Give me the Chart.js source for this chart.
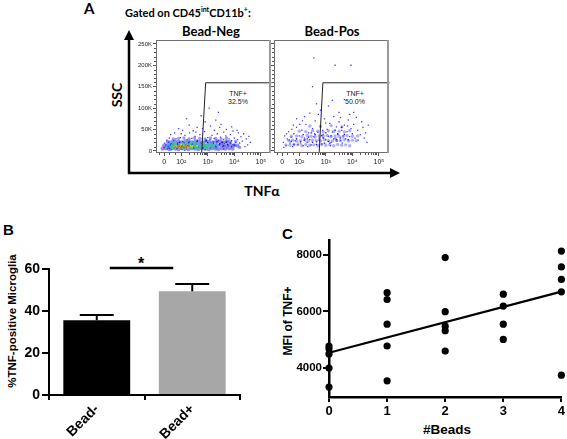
<!DOCTYPE html>
<html><head><meta charset="utf-8">
<script src="https://cdn.jsdelivr.net/npm/chart.js@4.4.0/dist/chart.umd.min.js"></script>
<style>
body{margin:0;width:567px;height:439px;background:#fff;position:relative;overflow:hidden;font-family:"Liberation Sans",Arial,sans-serif;}
canvas{position:absolute;}
.t{position:absolute;white-space:nowrap;color:#000;line-height:1;}
.lato{font-family:Lato,"Open Sans",sans-serif;font-weight:bold;}
.b{font-weight:bold;}
.rot{transform:translate(-50%,-50%) rotate(-90deg);}
.c{transform:translate(-50%,-50%);}
</style></head><body>

<div class="t lato" style="left:84px;top:1px;font-size:15px;">A</div>
<div class="t lato" style="left:125px;top:6px;font-size:11px;">Gated on CD45<sup style="font-size:7px">int</sup>CD11b<sup style="font-size:7px">+</sup>:</div>
<div class="t lato c" style="left:211px;top:31px;font-size:13px;">Bead-Neg</div>
<div class="t lato c" style="left:332px;top:31px;font-size:13px;">Bead-Pos</div>
<div class="t lato rot" style="left:117px;top:95px;font-size:14px;">SSC</div>
<div class="t lato c" style="left:262px;top:191px;font-size:14px;">TNFα</div>
<div class="t c" style="left:238px;top:93px;font-size:7px;color:#222;">TNF+</div>
<div class="t c" style="left:238px;top:101px;font-size:7px;color:#222;">32.5%</div>
<div class="t c" style="left:355px;top:93px;font-size:7px;color:#222;">TNF+</div>
<div class="t c" style="left:355px;top:101px;font-size:7px;color:#222;">50.0%</div>

<svg style="position:absolute;left:0;top:0" width="567" height="439">
  <path d="M129 36 L129 173 L394 173" fill="none" stroke="#000" stroke-width="2.5"/>
  <path d="M124 40 L129 30 L134 40 Z" fill="#000"/>
  <path d="M390 168 L400 173 L390 178 Z" fill="#000"/>
</svg>

<canvas id="flowNeg" width="155" height="145" style="left:120px;top:30px"></canvas>
<canvas id="flowPos" width="155" height="145" style="left:238px;top:30px"></canvas>

<div class="t b" style="left:3px;top:222px;font-size:15px;">B</div>
<div class="t b rot" style="left:13px;top:321px;font-size:11.5px;">%TNF-positive Microglia</div>
<div class="t b c" style="left:141px;top:264px;font-size:16px;">*</div>
<canvas id="barChart" width="245" height="209" style="left:0px;top:230px"></canvas>

<div class="t b" style="left:282px;top:226px;font-size:15px;">C</div>
<div class="t b rot" style="left:288px;top:321px;font-size:12px;">MFI of TNF+</div>
<div class="t b c" style="left:447px;top:430px;font-size:13.5px;">#Beads</div>
<canvas id="scatterChart" width="305" height="214" style="left:262px;top:225px"></canvas>

<script>
Chart.defaults.font.family = "'Liberation Sans', Arial, sans-serif";

// ---------- Panel A: flow cytometry (x in decade units, y in thousands) ----------
const flowTickPos = [1.36, 2, 3, 4, 5];
const flowTickLabels = ['0', '10²', '10³', '10⁴', '10⁵'];
const flowMinorX = [2.30,2.48,2.60,2.70,2.78,2.85,2.90,2.95,3.30,3.48,3.60,3.70,3.78,3.85,3.90,3.95,4.30,4.48,4.60,4.70,4.78,4.85,4.90,4.95,1.15,1.55,1.75];
const sscTicks = [0, 50, 100, 150, 200, 250];
const sscTickLabels = ['0', '50K', '100K', '150K', '200K', '250K'];
const sscMinor = [10,20,30,40,60,70,80,90,110,120,130,140,160,170,180,190,210,220,230,240];

// Bead-Neg: sparse events
const negBlue = [[1.35,8],[1.42,14],[1.48,5],[1.52,20],[1.58,11],[1.62,3],[1.66,17],[1.7,24],[1.74,9],[1.8,28],[1.84,6],[1.88,19],[1.92,13],[1.97,31],[2.02,4],[2.05,22],[2.1,15],[2.14,36],[2.18,8],[2.22,26],[2.27,18],[2.31,42],[2.35,11],[2.4,29],[2.44,21],[2.48,6],[2.52,34],[2.57,16],[2.61,25],[2.66,9],[2.7,38],[2.74,19],[2.79,28],[2.83,13],[2.88,45],[2.92,23],[2.96,8],[3.0,31],[3.04,17],[3.08,26],[3.12,12],[3.16,36],[3.2,21],[3.24,29],[3.28,7],[3.32,18],[3.36,40],[3.4,25],[3.44,14],[3.48,32],[3.52,20],[3.56,10],[3.6,27],[3.64,17],[3.68,35],[3.72,22],[3.76,12],[3.8,28],[3.85,19],[3.9,24],[3.95,15],[4.0,30],[4.05,20],[4.12,26],[4.2,18],[4.3,23],[4.45,28],[4.6,20],[1.9,52],[2.3,60],[2.6,55],[2.9,68],[3.1,58],[3.3,72],[3.5,62],[3.7,50],[3.9,56],[4.1,48],[2.2,75],[2.75,82],[3.4,90],[3.05,100],[2.45,47],[3.6,44],[4.35,40],[1.6,38],[1.45,25],[1.55,30],[2.0,40],[2.55,44],[3.25,48],[3.85,38],[4.25,33],[4.5,14],[1.38,18],[2.12,2],[2.9,3],[3.6,4],[4.4,10],[4.55,34],[4.15,42],[3.95,46],[2.8,52],[3.45,55],[2.05,48],[1.75,42]];
// Bead-Neg: dense band
const negBand = [[1.30,5],[1.42,6],[1.55,4],[1.66,6],[1.79,5],[1.90,4],[2.03,6],[2.15,5],[2.27,4],[2.40,6],[2.52,5],[2.65,4],[2.78,6],[2.90,5],[3.03,4],[3.15,6],[3.28,5],[3.40,4],[3.53,6],[3.66,5],[3.80,6],[3.93,5],
  [1.36,13],[1.48,12],[1.60,14],[1.73,13],[1.85,12],[1.97,14],[2.10,13],[2.22,12],[2.34,14],[2.47,13],[2.60,12],[2.72,14],[2.85,13],[2.97,12],[3.10,14],[3.22,13],[3.35,12],[3.48,14],[3.60,13],[3.73,12],[3.86,14],[4.00,13],[4.12,12],
  [1.50,21],[1.63,20],[1.76,22],[1.89,21],[2.02,20],[2.15,22],[2.28,21],[2.41,20],[2.54,22],[2.67,21],[2.80,20],[2.93,22],[3.06,21],[3.19,20],[3.32,22],[3.45,21],[3.58,20],[3.71,22],[3.84,21]];
const negBandTop = [[1.9,29],[2.1,30],[2.3,28],[2.5,30],[2.7,29],[2.9,28],[3.1,30],[3.3,29],[3.5,28],[3.7,30],[4.05,22],[4.2,8],[1.7,28]];
const negDarkBlue = [[1.5,10],[1.6,14],[1.75,12],[1.85,16],[2.0,10],[2.1,18],[2.25,12],[2.4,16],[2.55,11],[2.7,17],[2.85,12],[3.0,19],[3.15,14],[3.3,10],[3.45,16],[3.6,12],[3.75,15],[3.9,10],[2.95,24],[3.35,22],[2.6,22],[3.1,8],[3.55,20],[2.3,20],[1.95,20],[1.55,6],[2.05,14],[2.45,9],[2.8,7],[3.2,17],[3.7,20],[4.0,13]];
const negGreen = [[1.66,8],[1.78,15],[1.86,10],[1.94,13],[2.02,7],[2.08,16],[2.16,11],[2.24,9],[2.32,14],[2.4,8],[2.48,13],[2.56,10],[2.64,15],[2.72,9],[2.8,12],[2.9,10],[3.0,14],[3.1,11],[3.2,13],[2.2,18],[2.5,18],[2.86,16],[1.65,12],[2.12,5],[2.35,17],[2.6,6],[2.95,7],[3.15,16],[1.72,18]];
const negCyan = [[1.45,9],[1.55,15],[1.6,8],[2.7,18],[3.05,17],[3.25,9],[3.35,15],[2.45,20],[2.0,18]];
const negYellow = [[1.8,11],[1.95,9],[2.1,12],[2.25,8],[2.35,11],[2.6,12],[2.0,15],[1.75,10],[2.42,10]];
const negRed = [[1.78,9],[1.88,12],[1.98,7],[2.06,10],[2.15,13],[2.2,9],[2.3,10],[1.92,10],[2.1,8]];

// Bead-Pos events
const posBlue = [[1.4,20],[1.45,35],[1.5,12],[1.55,28],[1.6,45],[1.65,18],[1.7,32],[1.75,10],[1.8,40],[1.85,24],[1.9,55],[1.95,15],[2.0,35],[2.05,22],[2.1,48],[2.15,12],[2.2,30],[2.25,62],[2.3,20],[2.35,42],[2.4,27],[2.45,14],[2.5,52],[2.55,33],[2.6,70],[2.65,21],[2.7,44],[2.75,30],[2.8,58],[2.85,16],[2.9,38],[2.95,75],[3.0,26],[3.05,50],[3.1,34],[3.15,64],[3.2,20],[3.25,44],[3.3,80],[3.35,30],[3.4,56],[3.45,38],[3.5,68],[3.55,24],[3.6,48],[3.65,35],[3.7,60],[3.75,28],[3.8,45],[3.85,72],[3.9,33],[3.95,52],[4.0,40],[4.05,62],[4.1,30],[4.2,48],[4.3,38],[4.4,55],[4.5,42],[2.4,88],[2.8,95],[3.1,105],[3.5,90],[3.9,85],[2.2,80],[4.15,78],[3.25,118],[2.65,110],[2.55,217],[3.35,200],[3.95,200],[2.5,150],[3.7,120],[4.6,60],[1.9,75],[1.42,8],[1.62,25],[1.72,50],[2.02,62],[2.32,10],[2.58,40],[2.88,48],[3.18,12],[3.42,22],[3.62,18],[3.82,58],[4.22,25],[4.45,30],[3.0,65],[2.72,85],[1.52,40],[1.78,60],[2.12,70],[3.55,78],[4.05,90],[4.35,68],[4.55,20]];
const posCloud = [[1.50,14],[1.65,13],[1.80,15],[1.95,14],[2.10,12],[2.25,15],[2.40,13],[2.55,14],[2.70,12],[2.85,15],[3.00,13],[3.15,14],[3.30,12],[3.45,15],[3.60,13],[3.75,14],[3.90,12],
  [1.60,24],[1.75,25],[1.90,23],[2.05,24],[2.20,26],[2.35,23],[2.50,25],[2.65,24],[2.80,23],[2.95,26],[3.10,24],[3.25,23],[3.40,25],[3.55,24],[3.70,26],[3.85,23],[4.00,25],[4.15,24],
  [1.70,34],[1.90,35],[2.10,33],[2.30,36],[2.45,34],[2.60,33],[2.75,35],[2.90,34],[3.05,36],[3.20,33],[3.35,35],[3.50,34],[3.65,33],[3.80,36],[4.00,34],[4.20,35],
  [2.00,46],[2.25,45],[2.50,47],[2.70,46],[2.90,44],[3.10,47],[3.30,45],[3.50,46],[3.70,44],[3.90,47],
  [2.40,58],[2.80,57],[3.20,59],[3.60,56]];
const posDarkBlue = [[1.7,22],[1.9,28],[2.05,18],[2.2,25],[2.35,32],[2.5,20],[2.6,38],[2.75,25],[2.9,30],[3.0,42],[3.1,22],[3.2,35],[3.3,28],[3.45,40],[3.55,30],[3.7,38],[3.85,26],[2.45,42],[2.95,18],[3.35,48],[2.15,38],[1.8,15],[2.65,15],[3.6,55],[2.3,28],[2.85,36],[3.15,18],[3.4,26]];
const posYellow = [[2.25,22],[2.85,24],[3.4,30],[2.6,28],[3.1,45],[3.7,42],[1.95,20],[2.05,16]];

const negGate = [[2.77,-5],[2.92,159],[5.4,159]];
const posGate = [[2.75,-5],[2.89,159],[5.4,159]];

// ---------- Panel B ----------
const barCategories = ['Bead-', 'Bead+'];
const barMeans = [35.6, 49.4];
const barErrors = [2.5, 3.4];

// ---------- Panel C ----------
const beadCounts = [0,0,0,0,0, 1,1,1,1,1, 2,2,2,2,2, 3,3,3,3, 4,4,4,4,4];
const mfiValues = [4780,4680,4500,4000,3330, 6660,6420,5550,4780,3550, 7900,5990,5480,5320,4600, 6610,6190,5550,5010, 8130,7570,7130,6690,3750];
const fitX = [0, 4];
const fitY = [4540, 6700];
const mfiTicks = [4000, 6000, 8000];

const pts = a => a.map(p => ({x: p[0], y: p[1]}));
const boldFont = size => ({size: size, weight: 700, family: "'Liberation Sans', Arial, sans-serif"});

const flowFramePlugin = {
  id: 'flowFrame',
  afterDatasetsDraw(chart) {
    const {ctx, chartArea: a, scales: {x, y}} = chart;
    ctx.save();
    ctx.strokeStyle = '#6e6e6e'; ctx.lineWidth = 1;
    ctx.strokeRect(a.left + 0.5, a.top + 0.5, a.width - 1, a.height - 1);
    ctx.strokeStyle = '#9a9a9a'; ctx.lineWidth = 2;
    ctx.beginPath(); ctx.moveTo(a.right - 1, a.top); ctx.lineTo(a.right - 1, a.bottom); ctx.stroke();
    ctx.strokeStyle = '#555'; ctx.lineWidth = 1;
    flowMinorX.forEach(v => {
      const px = Math.round(x.getPixelForValue(v)) + 0.5;
      ctx.beginPath(); ctx.moveTo(px, a.bottom); ctx.lineTo(px, a.bottom + 2); ctx.stroke();
    });
    sscMinor.forEach(v => {
      const py = Math.round(y.getPixelForValue(v)) + 0.5;
      ctx.beginPath(); ctx.moveTo(a.left, py); ctx.lineTo(a.left - 2, py); ctx.stroke();
    });
    ctx.restore();
  }
};

// datasets listed bottom layer first; "order" makes later layers draw on top
function dots(data, color, r, style) {
  return {type: 'scatter', data: pts(data), backgroundColor: color, borderWidth: 0, pointRadius: r, pointStyle: style || 'rect', pointHoverRadius: 0};
}

function makeFlow(id, sets, gate, showY) {
  const layered = sets.map((d, i) => Object.assign(d, {order: sets.length - i + 1}));
  const ds = layered.concat([{
    type: 'line', data: pts(gate), borderColor: '#222', borderWidth: 1, pointRadius: 0, fill: false, tension: 0, clip: false, order: 0
  }]);
  new Chart(document.getElementById(id), {
    type: 'scatter',
    data: {datasets: ds},
    options: {
      responsive: false, animation: false, events: [],
      layout: {padding: {top: 10, right: 4, left: 0, bottom: 0}},
      plugins: {legend: {display: false}, tooltip: {enabled: false}},
      scales: {
        x: {
          type: 'linear', min: 1.05, max: 5.38,
          afterBuildTicks: s => { s.ticks = flowTickPos.map(v => ({value: v})); },
          afterFit: s => { s.height = 22; },
          ticks: {callback: (v, i) => flowTickLabels[i], font: {size: 7}, color: '#222', padding: 2, maxRotation: 0, minRotation: 0, autoSkip: false},
          grid: {display: true, drawOnChartArea: false, tickLength: 3, color: '#555', lineWidth: 1},
          border: {display: false}
        },
        y: {
          type: 'linear', min: -5, max: 259,
          afterBuildTicks: s => { s.ticks = sscTicks.map(v => ({value: v})); },
          afterFit: s => { s.width = 36; },
          ticks: {display: showY, callback: (v, i) => sscTickLabels[i], font: {size: 6}, color: '#222', padding: 1, autoSkip: false},
          grid: {display: true, drawOnChartArea: false, tickLength: 3, color: '#555', lineWidth: 1},
          border: {display: false}
        }
      }
    },
    plugins: [flowFramePlugin]
  });
}

makeFlow('flowNeg', [
  dots(negBlue, '#3a3af2', 0.9),
  dots(negBandTop, 'rgba(60,60,235,0.5)', 1.7, 'circle'),
  dots(negBand, 'rgba(55,55,225,0.55)', 2.1, 'circle'),
  dots(negDarkBlue, '#1c1cc0', 1.1),
  dots(negCyan, '#28b9e6', 1.4),
  dots(negGreen, '#30c88c', 1.5, 'circle'),
  dots(negYellow, '#d7d228', 1.3),
  dots(negRed, '#ec5a1e', 1.2)
], negGate, true);

makeFlow('flowPos', [
  dots(posCloud, 'rgba(80,80,240,0.45)', 1.7, 'circle'),
  dots(posBlue, '#3c3cff', 0.9),
  dots(posDarkBlue, '#2424be', 1.0),
  dots(posYellow, '#e6b428', 0.9)
], posGate, false);

// ---------- Panel B chart ----------
const errorBarPlugin = {
  id: 'errBars',
  afterDatasetsDraw(chart) {
    const {ctx, scales: {y}} = chart;
    const meta = chart.getDatasetMeta(0);
    ctx.save();
    ctx.strokeStyle = '#000'; ctx.lineWidth = 2;
    meta.data.forEach((bar, i) => {
      const top = y.getPixelForValue(barMeans[i] + barErrors[i]);
      ctx.beginPath(); ctx.moveTo(bar.x, bar.y); ctx.lineTo(bar.x, top); ctx.stroke();
      ctx.beginPath(); ctx.moveTo(bar.x - 17, top); ctx.lineTo(bar.x + 17, top); ctx.stroke();
    });
    const yb = y.getPixelForValue(60) - 1;
    ctx.lineWidth = 2.5;
    ctx.beginPath(); ctx.moveTo(meta.data[0].x + 13, yb); ctx.lineTo(meta.data[1].x - 19, yb); ctx.stroke();
    ctx.restore();
  }
};

new Chart(document.getElementById('barChart'), {
  type: 'bar',
  data: {labels: barCategories, datasets: [{data: barMeans, backgroundColor: ['#000000', '#a7a7a7'], borderWidth: 0, barPercentage: 0.7, categoryPercentage: 1}]},
  options: {
    responsive: false, animation: false, events: [],
    layout: {padding: {top: 39, right: 5, left: 0, bottom: 0}},
    plugins: {legend: {display: false}, tooltip: {enabled: false}},
    scales: {
      x: {
        afterFit: s => { s.height = 44; },
        ticks: {font: boldFont(14), color: '#000', maxRotation: 45, minRotation: 45, padding: 1},
        grid: {display: true, drawOnChartArea: false, tickLength: 5, color: '#000', lineWidth: 2},
        border: {display: true, color: '#000', width: 2}
      },
      y: {
        min: 0, max: 60,
        afterFit: s => { s.width = 49; },
        ticks: {stepSize: 20, font: boldFont(14), color: '#000', padding: 2},
        grid: {display: true, drawOnChartArea: false, tickLength: 7, color: '#000', lineWidth: 2},
        border: {display: true, color: '#000', width: 2}
      }
    }
  },
  plugins: [errorBarPlugin]
});

// ---------- Panel C chart ----------
new Chart(document.getElementById('scatterChart'), {
  type: 'scatter',
  data: {datasets: [
    {data: beadCounts.map((b, i) => ({x: b, y: mfiValues[i]})), backgroundColor: '#000', borderWidth: 0, pointRadius: 3.6, clip: false},
    {type: 'line', data: fitX.map((x, i) => ({x: x, y: fitY[i]})), borderColor: '#000', borderWidth: 2.2, pointRadius: 0, fill: false, clip: false}
  ]},
  options: {
    responsive: false, animation: false, events: [],
    layout: {padding: {top: 15, right: 3, left: 0, bottom: 0}},
    plugins: {legend: {display: false}, tooltip: {enabled: false}},
    scales: {
      x: {
        type: 'linear', min: 0, max: 4,
        afterFit: s => { s.height = 42; },
        ticks: {stepSize: 1, font: boldFont(13), color: '#000', padding: 2},
        grid: {display: true, drawOnChartArea: false, tickLength: 5, color: '#000', lineWidth: 2},
        border: {display: true, color: '#000', width: 2.5}
      },
      y: {
        type: 'linear', min: 2980, max: 8520,
        afterBuildTicks: s => { s.ticks = mfiTicks.map(v => ({value: v})); },
        afterFit: s => { s.width = 67; },
        ticks: {callback: v => String(v), font: boldFont(11.5), color: '#000', padding: 1},
        grid: {display: true, drawOnChartArea: false, tickLength: 6, color: '#000', lineWidth: 2},
        border: {display: true, color: '#000', width: 2.5}
      }
    }
  }
});
</script>
</body></html>
